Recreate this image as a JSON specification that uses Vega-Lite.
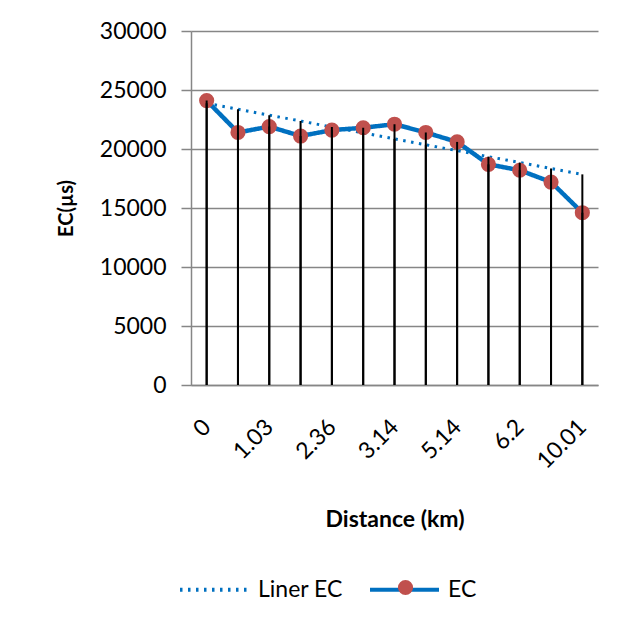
{
  "$schema": "https://vega.github.io/schema/vega-lite/v6.json",
  "width": 407,
  "height": 354,
  "autosize": "none",
  "padding": {"left": 191, "top": 31, "right": 29, "bottom": 243},
  "background": "white",
  "config": {
    "font": "Lato",
    "view": {"stroke": null},
    "axis": {
      "labelFont": "Lato",
      "labelFontSize": 23,
      "labelColor": "#000000",
      "titleFont": "Lato",
      "titleFontWeight": "bold",
      "titleColor": "#000000",
      "domainColor": "#868686",
      "domainWidth": 1.5,
      "gridColor": "#868686",
      "gridWidth": 1.5,
      "tickColor": "#868686",
      "tickWidth": 1.5
    },
    "axisY": {"tickSize": 10, "labelPadding": 15, "tickCount": 6, "grid": true, "format": "d"},
    "legend": {"labelFont": "Lato", "labelFontSize": 23, "labelColor": "#000000"}
  },
  "data": {
    "values": [
      {"distance": "0", "EC": 24100, "Liner": 23870},
      {"distance": "0.5", "EC": 21400, "Liner": 23370},
      {"distance": "1.03", "EC": 21900, "Liner": 22870},
      {"distance": "1.7", "EC": 21100, "Liner": 22370},
      {"distance": "2.36", "EC": 21600, "Liner": 21860},
      {"distance": "2.8", "EC": 21800, "Liner": 21360},
      {"distance": "3.14", "EC": 22100, "Liner": 20860},
      {"distance": "4.2", "EC": 21400, "Liner": 20360},
      {"distance": "5.14", "EC": 20600, "Liner": 19860},
      {"distance": "5.7", "EC": 18700, "Liner": 19350},
      {"distance": "6.2", "EC": 18200, "Liner": 18850},
      {"distance": "8.1", "EC": 17200, "Liner": 18350},
      {"distance": "10.01", "EC": 14600, "Liner": 17850}
    ]
  },
  "encoding": {
    "x": {
      "field": "distance",
      "type": "ordinal",
      "sort": null,
      "scale": {"type": "point", "padding": 0.5},
      "axis": {
        "title": "Distance  (km)",
        "titleFontSize": 23,
        "titleY": 134,
        "titleBaseline": "middle",
        "values": ["0", "1.03", "2.36", "3.14", "5.14", "6.2", "10.01"],
        "labelAngle": -45,
        "labelAlign": "right",
        "labelBaseline": "middle",
        "labelPadding": 38,
        "ticks": false,
        "tickSize": 0,
        "grid": false
      }
    }
  },
  "layer": [
    {
      "mark": {"type": "line", "strokeWidth": 3},
      "encoding": {
        "y": {"field": "Liner", "type": "quantitative", "scale": {"domain": [0, 30000]}, "axis": {"title": "EC(µs)", "titleFontSize": 20, "titleX": -125, "titleBaseline": "middle"}},
        "color": {
          "datum": "Liner EC",
          "scale": {"domain": ["Liner EC", "EC"], "range": ["#0070C0", "#0070C0"]},
          "legend": {"orient": "none", "legendX": -13, "legendY": 522, "direction": "horizontal", "title": null, "symbolType": "stroke", "symbolSize": 4761, "symbolStrokeWidth": 4, "labelOffset": 7, "columnPadding": 19}
        },
        "strokeDash": {
          "datum": "Liner EC",
          "scale": {"domain": ["Liner EC", "EC"], "range": [[2.5, 5.5], [1, 0]]},
          "legend": {"orient": "none", "legendX": -13, "legendY": 522, "direction": "horizontal", "title": null, "symbolType": "stroke", "symbolSize": 4761, "symbolStrokeWidth": 4, "labelOffset": 7, "columnPadding": 19}
        }
      }
    },
    {
      "mark": {"type": "line", "strokeWidth": 4.5},
      "encoding": {
        "y": {"field": "EC", "type": "quantitative", "scale": {"domain": [0, 30000]}, "axis": {"title": "EC(µs)", "titleFontSize": 20, "titleX": -125, "titleBaseline": "middle"}},
        "color": {"datum": "EC"},
        "strokeDash": {"datum": "EC"}
      }
    },
    {
      "mark": {"type": "point", "filled": true, "size": 230, "opacity": 1},
      "encoding": {
        "y": {"field": "EC", "type": "quantitative"},
        "fill": {
          "datum": "EC",
          "scale": {"range": ["#C0504D"]},
          "legend": {"orient": "none", "legendX": 203, "legendY": 545, "title": null, "symbolType": "circle", "symbolSize": 230, "labelExpr": "''", "symbolStrokeWidth": 0}
        }
      }
    },
    {
      "mark": {"type": "rule", "color": "#000000", "strokeWidth": 2},
      "encoding": {
        "y": {"field": "EC", "type": "quantitative"},
        "y2": {"datum": 0}
      }
    },
    {
      "mark": {"type": "rule", "color": "#000000", "strokeWidth": 2},
      "encoding": {
        "y": {"field": "Liner", "type": "quantitative"},
        "y2": {"datum": 0}
      }
    }
  ]
}
